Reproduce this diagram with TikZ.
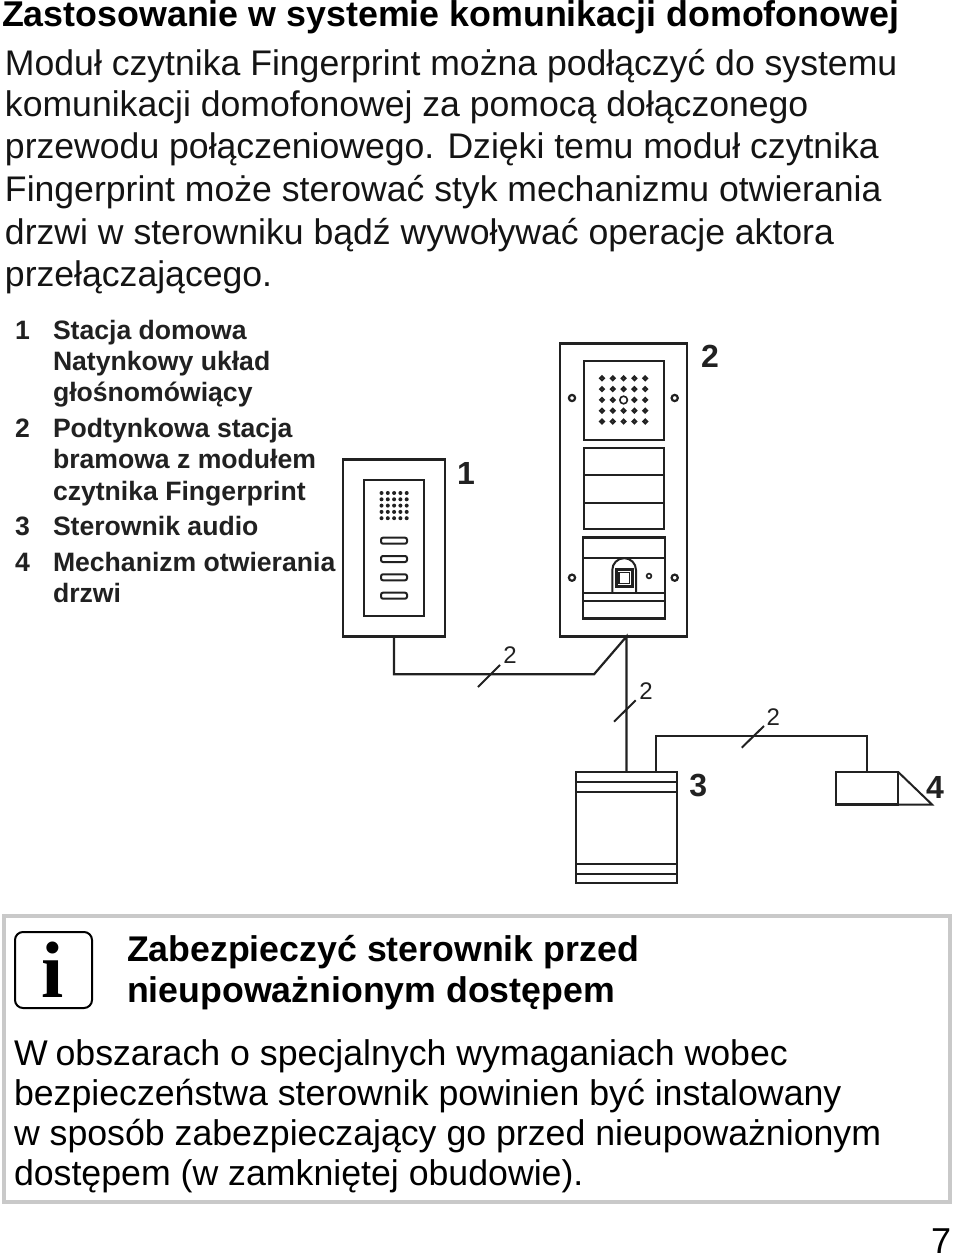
\documentclass[tikz,border=0pt]{standalone}
\usepackage{fontspec}
\setmainfont{Liberation Sans}
\newfontfamily\iserif{Liberation Serif}
\usetikzlibrary{calc}
\definecolor{ink}{gray}{0.13}
\tikzset{
 txt/.style={anchor=base west,inner sep=0pt,outer sep=0pt,text=black},
 titletxt/.style={txt,font=\fontsize{35.8}{36}\selectfont\bfseries},
 bodytxt/.style={txt,font=\fontsize{35.6}{36}\selectfont,text=black!92},
 itemtxt/.style={txt,font=\fontsize{26.6}{27}\selectfont\bfseries,text=ink},
 headtxt/.style={txt,font=\fontsize{35.7}{36}\selectfont\bfseries},
 notetxt/.style={txt,font=\fontsize{35.7}{36}\selectfont},
 callout/.style={inner sep=0pt,font=\fontsize{32}{32}\selectfont\bfseries,text=ink},
 wirecount/.style={inner sep=0pt,font=\fontsize{24}{24}\selectfont,text=ink},
 part/.style={draw=ink,line width=2.2pt,rectangle,inner sep=0pt,outer sep=0pt},
 wire/.style={draw=ink,line width=2.2pt,line join=miter},
 thin wire/.style={draw=ink,line width=2pt},
 detail/.style={draw=ink,line width=2pt},
}
\begin{document}
\begin{tikzpicture}[x=1pt,y=-1pt]
\useasboundingbox (0,0) rectangle (960,1260);
\fill[white] (0,0) rectangle (960,1260);
% heading text
\node[titletxt] (t0) at (2,27) {Zastosowanie w systemie komunikacji domofonowej};
\node[bodytxt] (b1) at (5,75.5) {Moduł czytnika Fingerprint można podłączyć do systemu};
\node[bodytxt] (b2) at (5,117) {komunikacji domofonowej za pomocą dołączonego};
\node[bodytxt] (b3) at (5,159) {przewodu połączeniowego. Dzięki temu moduł czytnika};
\node[bodytxt] (b4) at (5,201.5) {Fingerprint może sterować styk mechanizmu otwierania};
\node[bodytxt] (b5) at (5,244) {drzwi w sterowniku bądź wywoływać operacje aktora};
\node[bodytxt] (b6) at (5,286.5) {przełączającego.};
% legend
\node[itemtxt] (n1) at (15,339) {1};
\node[itemtxt] (i1a) at (53,339) {Stacja domowa};
\node[itemtxt] (i1b) at (53,370) {Natynkowy układ};
\node[itemtxt] (i1c) at (53,401) {głośnomówiący};
\node[itemtxt] (n2) at (15,437) {2};
\node[itemtxt] (i2a) at (53,437) {Podtynkowa stacja};
\node[itemtxt] (i2b) at (53,468) {bramowa z modułem};
\node[itemtxt] (i2c) at (53,500) {czytnika Fingerprint};
\node[itemtxt] (n3) at (15,535) {3};
\node[itemtxt] (i3a) at (53,535) {Sterownik audio};
\node[itemtxt] (n4) at (15,571) {4};
\node[itemtxt] (i4a) at (53,571) {Mechanizm otwierania};
\node[itemtxt] (i4b) at (53,602) {drzwi};
% indoor station
\node[part,minimum width=102pt,minimum height=177pt] (frame1) at (394,548) {};
\node[part,minimum width=60pt,minimum height=136pt] (inner1) at (394,548) {};
\foreach \c in {0,...,4}\foreach \r in {0,...,4}
  \fill[ink] ({381.5+\c*6.3},{493+\r*6.3}) circle (2);
\foreach \yy in {540.7,559,577.3,595.7}
  \draw[detail,rounded corners=2pt] (381,\yy-3) rectangle (407,\yy+3);
% door station
\node[part,minimum width=127pt,minimum height=293pt] (frame2) at (623.5,490) {};
\node[part,minimum width=80pt,minimum height=79pt] (spk) at (624,400.5) {};
\foreach \c in {0,...,4}\foreach \r in {0,...,4}
  \draw[ink,line width=2pt] ({602+\c*10.8},{378.3+\r*10.8}) circle (1.9);
\fill[white] (623.6,400) circle (5);
\draw[ink,line width=1.6pt] (623.6,400) circle (3.8);
\node[part,minimum width=80pt,minimum height=81pt] (btn) at (624,488.5) {};
\draw[detail] (584,474.7) -- (664,474.7) (584,503.3) -- (664,503.3);
\node[part,line width=2.6pt,minimum width=82pt,minimum height=81pt] (fp) at (624,578) {};
\draw[detail] (583,557.7) -- (665,557.7) (583,593.3) -- (665,593.3) (583,600.7) -- (665,600.7);
\draw[detail] (612.3,593.3) -- (612.3,570) arc (180:360:11.85) -- (636,593.3);
\draw[ink,line width=3pt] (616,569.3) rectangle (632.7,586);
\draw[ink,line width=1.6pt] (618.8,572.3) rectangle (629.5,583.3);
\draw[ink,line width=1.6pt] (649,576) circle (2.4);
\foreach \xx in {572,674.7}\foreach \yy in {398,577.7}
  \draw[ink,line width=2.2pt] (\xx,\yy) circle (3.1);
% controller and door opener
\node[part,minimum width=100.5pt,minimum height=111pt] (ctrl) at (626.5,827.8) {};
\draw[detail] (576.2,781.7) -- (676.8,781.7) (576.2,792) -- (676.8,792) (576.2,864.3) -- (676.8,864.3) (576.2,874) -- (676.8,874);
\node[part,minimum width=62.5pt,minimum height=32.5pt] (opener) at (867,788.3) {};
\draw[detail] (opener.north east) -- (932,804.5) -- (opener.south east);
% connectors
\coordinate (bend1) at (394,674.3);
\coordinate (bend2) at (594,674.3);
\coordinate (elbow1) at (656.3,735.7);
\coordinate (elbow2) at (867,735.7);
\draw[wire] (frame1.south) -- (bend1) -- (bend2) -- (frame2.south -| ctrl.north) -- (ctrl.north);
\draw[wire] (ctrl.north -| elbow1) -- (elbow1) -- (elbow2) -- (opener.north);
% wire ticks
\coordinate (ta1) at (478,687); \coordinate (ta2) at (500,665);
\coordinate (tb1) at (614,721.7); \coordinate (tb2) at (635.7,700.3);
\coordinate (tc1) at (741.7,747.7); \coordinate (tc2) at (764,726);
\draw[thin wire] (ta1) -- (ta2);
\draw[thin wire] (tb1) -- (tb2);
\draw[thin wire] (tc1) -- (tc2);
\node[wirecount] (wc1) at (510,655) {2};
\node[wirecount] (wc2) at (646,690.7) {2};
\node[wirecount] (wc3) at (773.3,716.7) {2};
% callouts
\node[callout] (c1) at (466,473) {1};
\node[callout] (c2) at (710,356) {2};
\node[callout] (c3) at (698.3,785) {3};
\node[callout] (c4) at (935,787) {4};
% note box
\node[draw=black!21,line width=4pt,rectangle,inner sep=0pt,minimum width=946.5pt,minimum height=286pt] (note) at (476.75,1059) {};
\node[draw=black,line width=2pt,rounded corners=8pt,rectangle,inner sep=0pt,minimum width=77pt,minimum height=76pt] (icon) at (53.5,970) {};
\node[inner sep=0pt,font=\fontsize{80}{80}\selectfont\iserif\bfseries] (ii) at (53,970) {i};
\node[headtxt] (h1) at (127,961) {Zabezpieczyć sterownik przed};
\node[headtxt] (h2) at (127,1002) {nieupoważnionym dostępem};
\node[notetxt] (m1) at (14,1065) {W\hspace{-2pt} obszarach o specjalnych wymaganiach wobec};
\node[notetxt] (m2) at (14,1105) {bezpieczeństwa sterownik powinien być instalowany};
\node[notetxt] (m3) at (14,1145) {w sposób zabezpieczający go przed nieupoważnionym};
\node[notetxt] (m4) at (14,1185) {dostępem (w zamkniętej obudowie).};
\node[txt,font=\fontsize{36}{36}\selectfont] (pg) at (931,1253) {7};
\end{tikzpicture}
\end{document}
